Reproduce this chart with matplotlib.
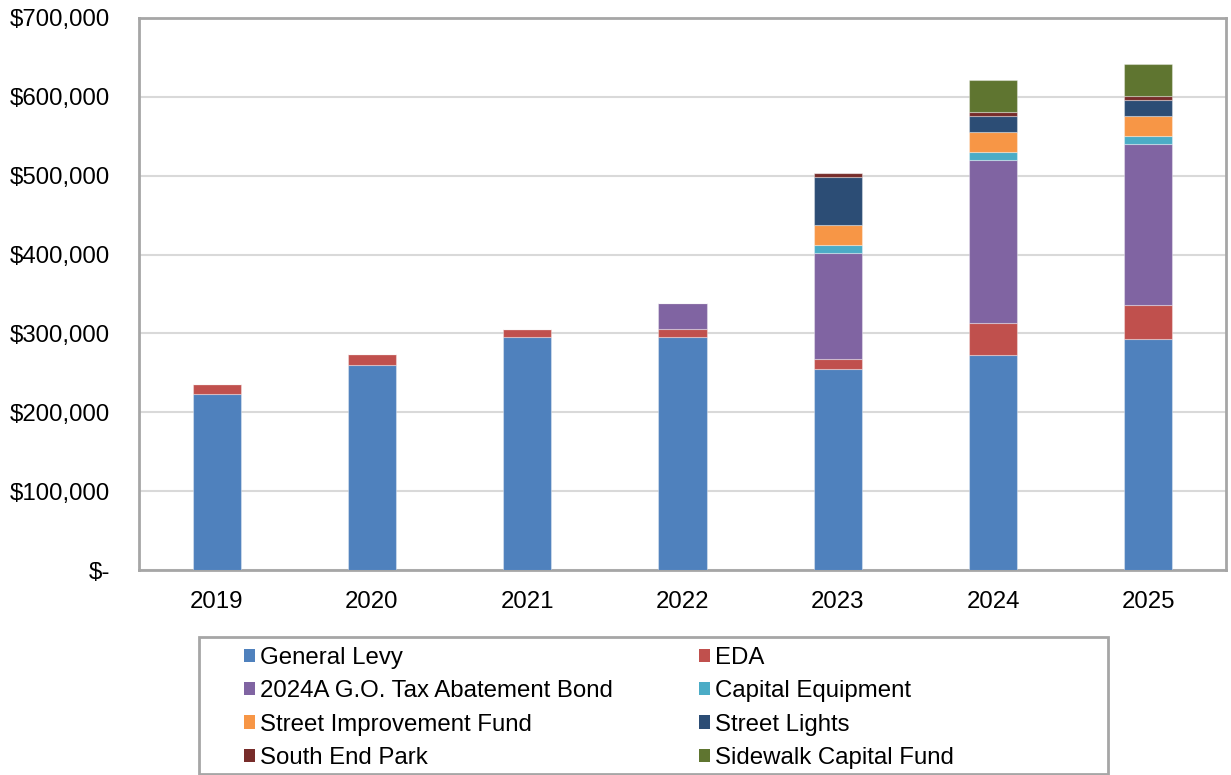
#!/usr/bin/env python3
"""
Stacked bar chart of levy sources by year, 2019-2025.
"""

import numpy as np
import matplotlib
matplotlib.use("Agg")
import matplotlib.pyplot as plt
from matplotlib.patches import Patch, Rectangle
from matplotlib.ticker import FuncFormatter

years = ["2019", "2020", "2021", "2022", "2023", "2024", "2025"]

general_levy = [222800, 260500, 295800, 295800, 255000, 273000, 293000]
eda = [12600, 12900, 10200, 9700, 13000, 40500, 43300]
tax_abatement_bond = [0, 0, 0, 33300, 133600, 206800, 204200]
capital_equipment = [0, 0, 0, 0, 10700, 10100, 10100]
street_improvement = [0, 0, 0, 0, 25300, 25300, 25400]
street_lights = [0, 0, 0, 0, 60200, 20300, 19800]
south_end_park = [0, 0, 0, 0, 5100, 5100, 5500]
sidewalk_fund = [0, 0, 0, 0, 0, 40500, 40500]

series = [
    ("General Levy", general_levy, "#4F81BD"),
    ("EDA", eda, "#C0504D"),
    ("2024A G.O. Tax Abatement Bond", tax_abatement_bond, "#8064A2"),
    ("Capital Equipment", capital_equipment, "#4BACC6"),
    ("Street Improvement Fund", street_improvement, "#F79646"),
    ("Street Lights", street_lights, "#2C4D75"),
    ("South End Park", south_end_park, "#772C2A"),
    ("Sidewalk Capital Fund", sidewalk_fund, "#5F7530"),
]

plt.rcParams['font.family'] = ['Liberation Sans', 'DejaVu Sans']
FS = 17.3

fig = plt.figure(figsize=(12.31, 7.75), dpi=100)
ax = fig.add_axes([0.1129, 0.2645, 0.883, 0.7123])

x = np.arange(len(years))
bottom = np.zeros(len(years))
for name, vals, color in series:
    vals = np.array(vals, dtype=float)
    ax.bar(x, vals, width=0.31, bottom=bottom, color=color,
           edgecolor=(1, 1, 1, 0.35), linewidth=0.8, zorder=3)
    bottom += vals

# axes styling
ax.set_xlim(-0.5, len(years) - 0.5)
ax.set_ylim(0, 700000)
ax.set_yticks(np.arange(0, 700001, 100000))
ax.yaxis.set_major_formatter(FuncFormatter(
    lambda v, p: "$-" if v == 0 else "${:,.0f}".format(v)))
ax.set_xticks(x)
ax.set_xticklabels(years)
ax.tick_params(axis='y', length=0, pad=21, labelsize=FS)
ax.tick_params(axis='x', length=0, pad=15, labelsize=FS)
ax.grid(axis='y', color='#D9D9D9', linewidth=1.5, zorder=0)
for s in ax.spines.values():
    s.set_color('#A6A6A6')
    s.set_linewidth(2)

# legend: two columns, read row by row
handles = [Patch(facecolor=c, edgecolor='none', label=n) for n, _, c in series]
common = dict(frameon=False, fontsize=FS, handlelength=0.46,
              handleheight=0.46, handletextpad=0.2, labelspacing=0.47,
              borderpad=0, borderaxespad=0, loc='upper left')
fig.legend(handles=handles[0::2], bbox_to_anchor=(244 / 1231, 1 - 647 / 775),
           **common)
fig.legend(handles=handles[1::2], bbox_to_anchor=(699 / 1231, 1 - 647 / 775),
           **common)
fig.patches.append(Rectangle((199 / 1231, 0.001), 909 / 1231, 1 - 637 / 775 - 0.001,
                             transform=fig.transFigure, fill=False,
                             edgecolor='#A6A6A6', linewidth=2))

fig.savefig("out.png", dpi=100)
